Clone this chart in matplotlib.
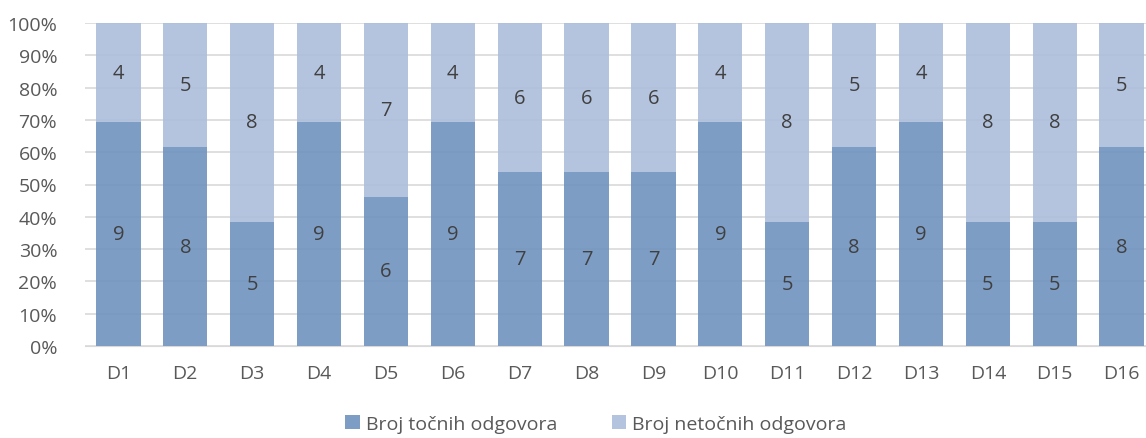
import numpy as np
import matplotlib.pyplot as plt

# data
categories = ['D%d' % i for i in range(1, 17)]
correct = [9, 8, 5, 9, 6, 9, 7, 7, 7, 9, 5, 8, 9, 5, 5, 8]
wrong = [4, 5, 8, 4, 7, 4, 6, 6, 6, 4, 8, 5, 4, 8, 8, 5]

plt.rcParams['font.family'] = ['Open Sans', 'DejaVu Sans']

c = np.array(correct, dtype=float)
w = np.array(wrong, dtype=float)
tot = c + w
pc = c / tot * 100
pw = w / tot * 100

fig = plt.figure(figsize=(11.46, 4.39), dpi=100)
ax = fig.add_axes([85 / 1146, 92 / 439, 1070 / 1146, 323 / 439])

x = np.arange(len(categories))
bw = 0.66
ax.bar(x, pc, bw, color='#6f93bf', alpha=0.9, zorder=2, label='Broj točnih odgovora')
ax.bar(x, pw, bw, bottom=pc, color='#adbedb', alpha=0.9, zorder=2, label='Broj netočnih odgovora')

for i in range(len(x)):
  ax.text(x[i], pc[i] / 2, str(correct[i]), ha='center', va='center', fontsize=14.5, color='#404040', zorder=3)
  ax.text(x[i], pc[i] + pw[i] / 2, str(wrong[i]), ha='center', va='center', fontsize=14.5, color='#404040', zorder=3)

ax.set_xlim(-0.5, 15.5)
ax.set_ylim(0, 100)
ax.set_yticks(np.arange(0, 101, 10))
ax.set_yticklabels(['%d%%' % v for v in range(0, 101, 10)])
ax.set_xticks(x)
ax.set_xticklabels(categories)
ax.tick_params(length=0, labelsize=14, colors='#595959')
ax.tick_params(axis='x', pad=13)
ax.tick_params(axis='y', pad=20)
ax.yaxis.grid(True, color='#d9d9d9', linewidth=1.2, zorder=1)
ax.set_axisbelow(True)
for s in ['top', 'right', 'left']:
  ax.spines[s].set_visible(False)
ax.spines['bottom'].set_color('#d9d9d9')

fig.legend(loc='lower center', bbox_to_anchor=(0.52, -0.028), ncol=2, frameon=False,
           fontsize=14, labelcolor='#595959', handlelength=0.75, handleheight=0.75,
           handletextpad=0.3, columnspacing=2.8)

fig.savefig('out.png', dpi=100)
